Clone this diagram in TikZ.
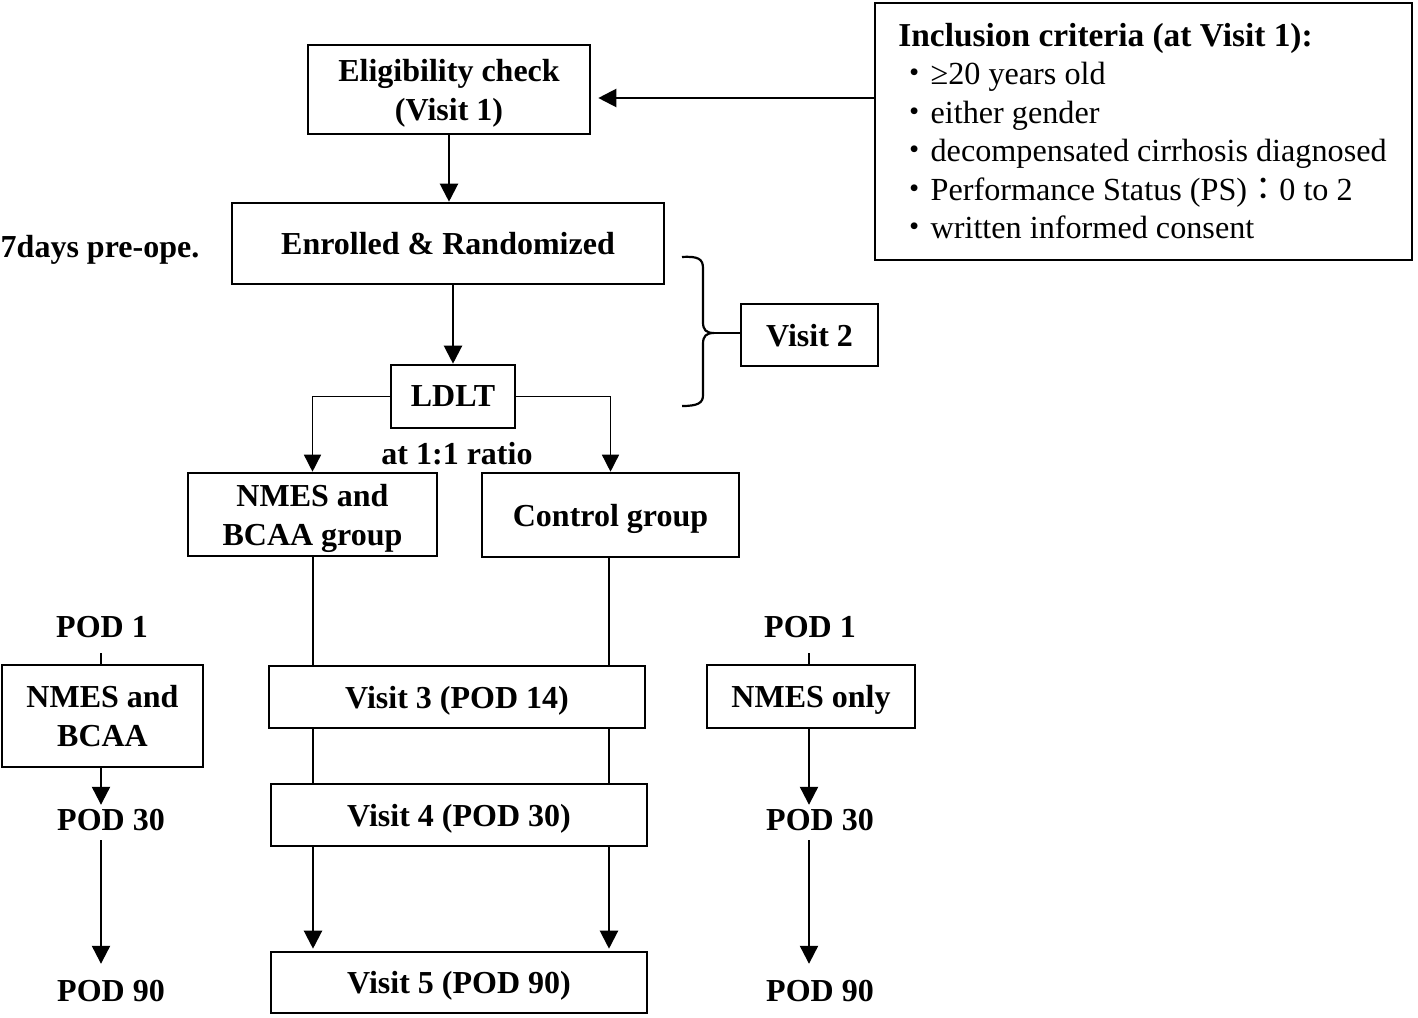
\documentclass[tikz,border=0pt]{standalone}
\usepackage{fontspec}
\setmainfont{Liberation Serif}
\newfontfamily\cjk{Noto Sans CJK JP}
\usetikzlibrary{arrows.meta}
\newcommand\flowfont{\fontsize{16}{19.5}\selectfont\bfseries}
\newcommand\inclfont{\fontsize{16.1}{19.25}\selectfont}
\newcommand\incltitlefont{\fontsize{16.7}{19.25}\selectfont\bfseries}
\begin{document}
\begin{tikzpicture}[x=0.5pt,y=-0.5pt,
  box/.style={draw, line width=1.3pt, inner sep=0pt, align=center, font=\flowfont, text depth=0pt},
  lbl/.style={inner sep=0pt, align=center, font=\flowfont},
  arr/.style={line width=1.1pt, -{Triangle[width=9pt,length=9pt]}},
  thinarr/.style={line width=0.75pt, -{Triangle[width=8.5pt,length=8.5pt]}},
  plain/.style={line width=1.1pt},
  bracel/.style={line width=1.1pt}]
\useasboundingbox (0,0) rectangle (1418,1017);
\fill[white] (0,0) rectangle (1418,1017);

% inclusion criteria
\node[draw, line width=1.3pt, inner sep=0pt, minimum width=268.5pt, minimum height=128.5pt] (incl) at (1143.5,131.5) {};
\node[anchor=west, inner sep=0pt, align=left, font=\inclfont] (incltext) at (898,131)
  {{\incltitlefont Inclusion criteria (at Visit 1):}\\
   {\cjk ・}≥20 years old\\
   {\cjk ・}either gender\\
   {\cjk ・}decompensated cirrhosis diagnosed\\
   {\cjk ・}Performance Status (PS){\cjk ：}0 to 2\\
   {\cjk ・}written informed consent};

% main column
\node[box, minimum width=141pt, minimum height=44.5pt] (elig) at (449,89.5) {Eligibility check\\(Visit 1)};
\node[box, minimum width=216pt, minimum height=40.5pt] (enr) at (448,243.5) {Enrolled \& Randomized};
\node[lbl] (pre) at (100,250) {7days pre-ope.};
\node[box, minimum width=62pt, minimum height=31.5pt] (ldlt) at (453,396.5) {LDLT};
\node[box, minimum width=68.5pt, minimum height=31pt] (v2) at (809.5,335) {Visit 2};
\node[lbl] (ratio) at (457,454) {at 1:1 ratio};
\node[box, minimum width=124.5pt, minimum height=41.5pt] (nmesg) at (312.5,514.5) {NMES and\\BCAA group};
\node[box, minimum width=128.5pt, minimum height=42pt] (ctrl) at (610.5,515) {Control group};
\node[box, minimum width=188pt, minimum height=31pt] (v3) at (457,697) {Visit 3 (POD 14)};
\node[box, minimum width=188pt, minimum height=31pt] (v4) at (459,815) {Visit 4 (POD 30)};
\node[box, minimum width=188pt, minimum height=30.5pt] (v5) at (459,982.5) {Visit 5 (POD 90)};

% left column
\node[lbl] (pod1L) at (102,627) {POD 1};
\node[box, minimum width=100.5pt, minimum height=51pt] (nbL) at (102.5,716) {NMES and\\BCAA};
\node[lbl] (pod30L) at (111,820) {POD 30};
\node[lbl] (pod90L) at (111,991) {POD 90};

% right column
\node[lbl] (pod1R) at (810,627) {POD 1};
\node[box, minimum width=104pt, minimum height=31.5pt] (nor) at (811,696.5) {NMES only};
\node[lbl] (pod30R) at (820,820) {POD 30};
\node[lbl] (pod90R) at (820,991) {POD 90};

% connectors
\coordinate (ay) at (0,98);
\draw[arr] (incl.west |- ay) -- ([xshift=3.5pt]elig.east |- ay);
\draw[arr] (elig.south) -- (elig.south |- enr.north);
\draw[arr] (ldlt.north |- enr.south) -- (ldlt.north);
\draw[thinarr] (ldlt.west) -| (nmesg.north);
\draw[thinarr] (ldlt.east) -| (ctrl.north);

\coordinate (xl) at (313,0);
\coordinate (xr) at (609,0);
\draw[plain] (nmesg.south -| xl) -- (v3.north -| xl);
\draw[plain] (ctrl.south -| xr) -- (v3.north -| xr);
\draw[plain] (v3.south -| xl) -- (v4.north -| xl);
\draw[plain] (v3.south -| xr) -- (v4.north -| xr);
\draw[arr] (v4.south -| xl) -- ([yshift=1pt]v5.north -| xl);
\draw[arr] (v4.south -| xr) -- ([yshift=1pt]v5.north -| xr);

% left column connectors
\coordinate (xL) at (101,0);
\draw[plain] (nbL.north -| xL) -- ([yshift=5.5pt]nbL.north -| xL);
\draw[arr] (nbL.south -| xL) -- ([yshift=2pt]pod30L.north -| xL);
\draw[arr] ([yshift=-4.5pt]pod30L.south -| xL) -- ([yshift=8pt]pod90L.north -| xL);

% right column connectors
\coordinate (xR) at (809,0);
\draw[plain] (nor.north -| xR) -- ([yshift=5.5pt]nor.north -| xR);
\draw[arr] (nor.south -| xR) -- ([yshift=2pt]pod30R.north -| xR);
\draw[arr] ([yshift=-4.5pt]pod30R.south -| xR) -- ([yshift=8pt]pod90R.north -| xR);

% brace to Visit 2
\coordinate (btip) at (714,333);
\draw[bracel] (682,257) .. controls (698,256) and (703,259) .. (703,268) -- (703,322)
  .. controls (703,330) and (706,333) .. (btip)
  .. controls (706,333) and (703,336) .. (703,344) -- (703,395)
  .. controls (703,403) and (698,406) .. (682,406);
\draw[bracel] (btip) -- (v2.west |- btip);
\end{tikzpicture}
\end{document}
